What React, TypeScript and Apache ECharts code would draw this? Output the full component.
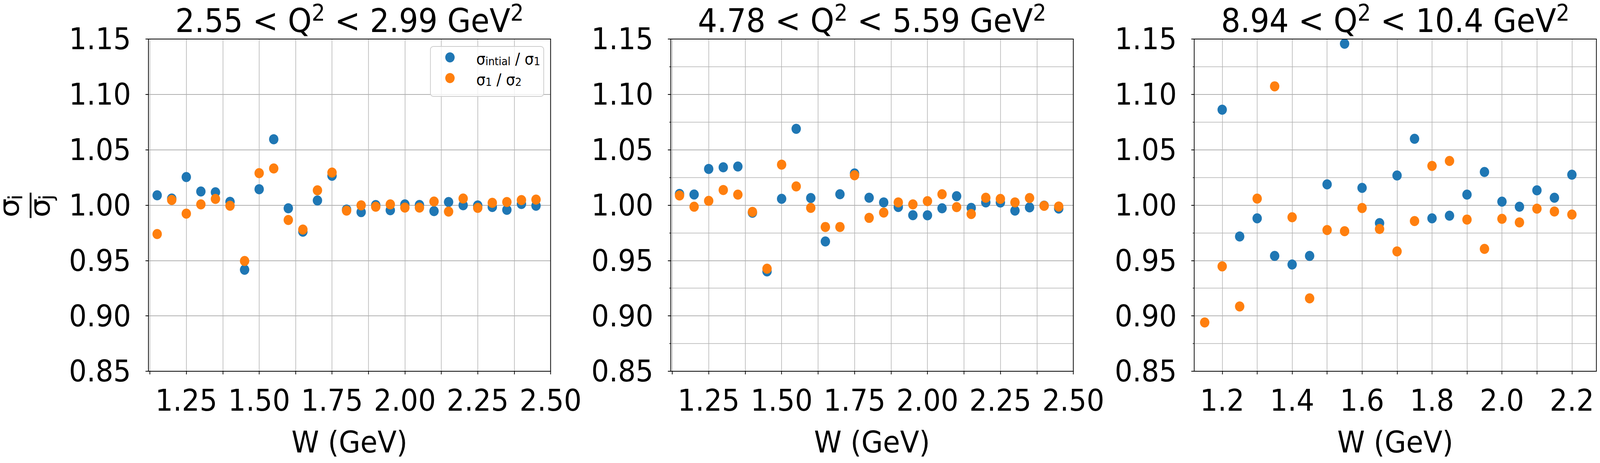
import React, { useEffect, useRef } from "react";
import * as echarts from "echarts";

const FONT = '"DejaVu Sans"';
const BLUE = "#1f77b4";
const ORANGE = "#ff7f0e";
const NAME_A = "sigma_intial / sigma_1";
const NAME_B = "sigma_1 / sigma_2";

// W values (GeV)
const W_LOW = [1.15, 1.2, 1.25, 1.3, 1.35, 1.4, 1.45, 1.5, 1.55, 1.6, 1.65, 1.7, 1.75, 1.8, 1.85, 1.9, 1.95, 2.0, 2.05, 2.1, 2.15, 2.2, 2.25, 2.3, 2.35, 2.4, 2.45];
const W_HIGH = [1.15, 1.2, 1.25, 1.3, 1.35, 1.4, 1.45, 1.5, 1.55, 1.6, 1.65, 1.7, 1.75, 1.8, 1.85, 1.9, 1.95, 2.0, 2.05, 2.1, 2.15, 2.2];

// Panel 1: 2.55 < Q2 < 2.99
const P1_INIT = [1.0089, 1.006, 1.0254, 1.0123, 1.0116, 1.003, 0.9417, 1.0144, 1.0595, 0.9972, 0.976, 1.0042, 1.0265, 0.996, 0.9937, 1.0001, 0.9954, 1.0007, 1.0002, 0.9946, 1.0028, 0.9999, 0.9997, 0.9983, 0.9958, 1.0011, 0.9995];
const P1_ITER = [0.9739, 1.0047, 0.9923, 1.0007, 1.0056, 0.9995, 0.9496, 1.0289, 1.0331, 0.9866, 0.978, 1.0134, 1.0294, 0.9951, 0.9998, 0.9986, 1.0007, 0.9978, 0.9978, 1.0033, 0.9942, 1.006, 0.9975, 1.0021, 1.0028, 1.0046, 1.005];
// Panel 2: 4.78 < Q2 < 5.59
const P2_INIT = [1.0101, 1.0096, 1.0327, 1.0342, 1.0349, 0.9931, 0.9402, 1.0057, 1.0689, 1.0064, 0.9672, 1.0099, 1.0286, 1.0067, 1.0025, 0.9983, 0.9909, 0.9908, 0.9972, 1.0081, 0.9975, 1.0025, 1.0024, 0.9951, 0.998, 0.9996, 0.9969];
const P2_ITER = [1.0087, 0.9986, 1.0039, 1.0137, 1.0095, 0.9939, 0.9426, 1.0366, 1.0169, 0.9975, 0.9803, 0.9803, 1.027, 0.9885, 0.9933, 1.0025, 1.0007, 1.0036, 1.0099, 0.9982, 0.992, 1.0067, 1.0056, 1.0025, 1.0064, 0.9994, 0.9988];
// Panel 3: 8.94 < Q2 < 10.4
const P3_INIT = [null, 1.0862, 0.9717, 0.9881, 0.9542, 0.9464, 0.9542, 1.0188, 1.1458, 1.0156, 0.9838, 1.0268, 1.0599, 0.9881, 0.9905, 1.0095, 1.03, 1.0032, 0.9986, 1.0134, 1.0067, 1.0275];
const P3_ITER = [0.8941, 0.9447, 0.9085, 1.0059, 1.1073, 0.9891, 0.9158, 0.9775, 0.9765, 0.9974, 0.9785, 0.9582, 0.9856, 1.0354, 1.0399, 0.987, 0.9605, 0.9877, 0.9844, 0.9968, 0.9943, 0.9915];

// Tick values
const TICKS_LOW = [1.125, 1.25, 1.375, 1.5, 1.625, 1.75, 1.875, 2.0, 2.125, 2.25, 2.375, 2.5];
const LABELS_LOW = [1.25, 1.5, 1.75, 2.0, 2.25, 2.5];
const TICKS_HIGH = [1.2, 1.3, 1.4, 1.5, 1.6, 1.7, 1.8, 1.9, 2.0, 2.1, 2.2];
const LABELS_HIGH = [1.2, 1.4, 1.6, 1.8, 2.0, 2.2];

const TITLES = [
  ["2.55 < Q", " < 2.99 GeV"],
  ["4.78 < Q", " < 5.59 GeV"],
  ["8.94 < Q", " < 10.4 GeV"],
];

const pairs = (w: number[], v: (number | null)[]) =>
  w.map((x, i) => [x, v[i]]).filter((p) => p[1] !== null);

export default function App() {
  const outer = useRef<HTMLDivElement>(null);
  const ref = useRef<HTMLDivElement>(null);
  useEffect(() => {
    if (!ref.current || !outer.current) return;
    const kx = (outer.current.clientWidth || 4420) / 4420;
    const ky = (outer.current.clientHeight || 1186) / 1186;
    ref.current.style.transform = `scale(${kx}, ${ky})`;
    const chart = echarts.init(ref.current, null, { renderer: "svg" });

    const panels = [
      { left: 410, width: 1111, xmin: 1.12, xmax: 2.5, ticks: TICKS_LOW, labels: LABELS_LOW, dec: 2, minor: false, a: P1_INIT, b: P1_ITER, w: W_LOW },
      { left: 1853, width: 1112, xmin: 1.12, xmax: 2.5, ticks: TICKS_LOW, labels: LABELS_LOW, dec: 2, minor: true, a: P2_INIT, b: P2_ITER, w: W_LOW },
      { left: 3299, width: 1111, xmin: 1.12, xmax: 2.27, ticks: TICKS_HIGH, labels: LABELS_HIGH, dec: 1, minor: true, a: P3_INIT, b: P3_ITER, w: W_HIGH },
    ];
    const TOP = 100;
    const HEIGHT = 851;

    const grid = panels.map((p) => ({
      left: p.left,
      top: TOP,
      width: p.width,
      height: HEIGHT,
      containLabel: false,
      outerBoundsMode: "none",
      show: false,
    }));

    const xAxis: any[] = [];
    const yAxis: any[] = [];
    panels.forEach((p, i) => {
      xAxis.push({
        type: "value",
        gridIndex: i,
        min: p.xmin,
        max: p.xmax,
        name: "W (GeV)",
        nameLocation: "middle",
        nameGap: 143,
        nameTextStyle: { fontFamily: FONT, fontSize: 77, color: "#000" },
        axisLine: { show: true, onZero: false, lineStyle: { color: "#000", width: 2 } },
        axisTick: { show: true, customValues: p.ticks, length: 8, lineStyle: { color: "#000", width: 2 } },
        axisLabel: {
          show: true,
          customValues: p.labels,
          margin: 36,
          fontFamily: FONT,
          fontSize: 77,
          color: "#000",
          formatter: (v: number) => v.toFixed(p.dec),
        },
        splitLine: { show: true, lineStyle: { color: "#b0b0b0", width: 1.6 } },
      });
      yAxis.push({
        type: "value",
        gridIndex: i,
        min: 0.85,
        max: 1.15,
        interval: 0.05,
        axisLine: { show: true, onZero: false, lineStyle: { color: "#000", width: 2 } },
        axisTick: { show: true, length: 8, lineStyle: { color: "#000", width: 2 } },
        minorTick: { show: p.minor, splitNumber: 2, length: 4, lineStyle: { color: "#000", width: 1.5 } },
        minorSplitLine: { show: p.minor, lineStyle: { color: "#b0b0b0", width: 1.5 } },
        axisLabel: {
          margin: 48,
          fontFamily: FONT,
          fontSize: 77,
          color: "#000",
          formatter: (v: number) => v.toFixed(2),
        },
        splitLine: { show: true, showMinLine: false, showMaxLine: false, lineStyle: { color: "#b0b0b0", width: 2 } },
      });
    });
    // frame (top & right spines)
    panels.forEach((p, i) => {
      xAxis.push({
        type: "value",
        gridIndex: i,
        position: "top",
        min: p.xmin,
        max: p.xmax,
        z: 5,
        axisLine: { show: true, onZero: false, lineStyle: { color: "#000", width: 2 } },
        axisTick: { show: false },
        axisLabel: { show: false },
        splitLine: { show: false },
      });
      yAxis.push({
        type: "value",
        gridIndex: i,
        position: "right",
        min: 0.85,
        max: 1.15,
        z: 5,
        axisLine: { show: true, onZero: false, lineStyle: { color: "#000", width: 2 } },
        axisTick: { show: false },
        axisLabel: { show: false },
        splitLine: { show: false },
      });
    });

    const series: any[] = [];
    panels.forEach((p, i) => {
      series.push({
        type: "scatter",
        name: NAME_A,
        xAxisIndex: i,
        yAxisIndex: i,
        data: pairs(p.w, p.a),
        symbol: "circle",
        symbolSize: 26,
        itemStyle: { color: BLUE, opacity: 1 },
        z: 2,
      });
      series.push({
        type: "scatter",
        name: NAME_B,
        xAxisIndex: i,
        yAxisIndex: i,
        data: pairs(p.w, p.b),
        symbol: "circle",
        symbolSize: 26,
        itemStyle: { color: ORANGE, opacity: 1 },
        z: 3,
      });
    });

    const title = panels.map((p, i) => ({
      text: `{m|${TITLES[i][0]}}{s|2}{m|${TITLES[i][1]}}{s|2}`,
      left: p.left + p.width / 2,
      top: 3.3,
      padding: 0,
      textAlign: "center",
      textVerticalAlign: "top",
      textStyle: {
        fontFamily: FONT,
        fontSize: 84,
        fontWeight: "normal",
        color: "#000",
        rich: {
          m: { fontFamily: FONT, fontSize: 84, lineHeight: 100, verticalAlign: "middle", color: "#000" },
          s: { fontFamily: FONT, fontSize: 58, lineHeight: 53, verticalAlign: "top", color: "#000" },
        },
      },
    }));

    const txt = (text: string, x: number, y: number, size: number) => ({
      type: "text",
      x,
      y,
      style: {
        text,
        fill: "#000",
        textFill: "#000",
        font: `${size}px ${FONT}`,
        fontSize: size,
        fontFamily: FONT,
        align: "center",
        textAlign: "center",
        verticalAlign: "middle",
        textVerticalAlign: "middle",
      },
    });

    chart.setOption({
      animation: false,
      backgroundColor: "#fff",
      title,
      grid,
      xAxis,
      yAxis,
      series,
      legend: {
        data: [NAME_A, NAME_B],
        orient: "vertical",
        left: 1230,
        top: 128,
        padding: 0,
        itemGap: 10,
        itemWidth: 26,
        itemHeight: 26,
        icon: "circle",
        selectedMode: false,
        z: 6,
        formatter: (name: string) =>
          name === NAME_A
            ? "{sp|    }{m|σ}{s|intial}{m| / σ}{s|1}"
            : "{sp|    }{m|σ}{s|1}{m| / σ}{s|2}",
        textStyle: {
          fontFamily: FONT,
          fontSize: 40,
          color: "#000",
          rich: {
            sp: { fontFamily: FONT, fontSize: 43, lineHeight: 48, verticalAlign: "bottom", color: "#000" },
            m: { fontFamily: FONT, fontSize: 40, lineHeight: 48, verticalAlign: "bottom", color: "#000" },
            s: { fontFamily: FONT, fontSize: 28, lineHeight: 28, verticalAlign: "bottom", color: "#000" },
          },
        },
      },
      graphic: {
        elements: [
          {
            type: "rect",
            z: 5,
            shape: { x: 1189, y: 119, width: 313, height: 128, r: 8 },
            style: { fill: "rgba(255,255,255,0.8)", stroke: "#cccccc", lineWidth: 2 },
          },
          {
            type: "group",
            x: 84,
            y: 525.5,
            rotation: Math.PI / 2,
            children: [
              txt("σ", -7, -58.6, 77),
              txt("i", 20, -40.7, 54),
              {
                type: "line",
                shape: { x1: -33, y1: 0.5, x2: 32, y2: 0.5 },
                style: { stroke: "#000", lineWidth: 5 },
              },
              txt("σ", -7, 26.4, 77),
              txt("j", 20, 44.3, 54),
            ],
          },
        ],
      },
    });
    return () => chart.dispose();
  }, []);
  return (
    <div
      ref={outer}
      style={{ position: "fixed", left: 0, top: 0, width: "100vw", height: "100vh", overflow: "hidden", background: "#fff" }}
    >
      <div ref={ref} style={{ width: 4420, height: 1186, transformOrigin: "0 0" }} />
    </div>
  );
}
